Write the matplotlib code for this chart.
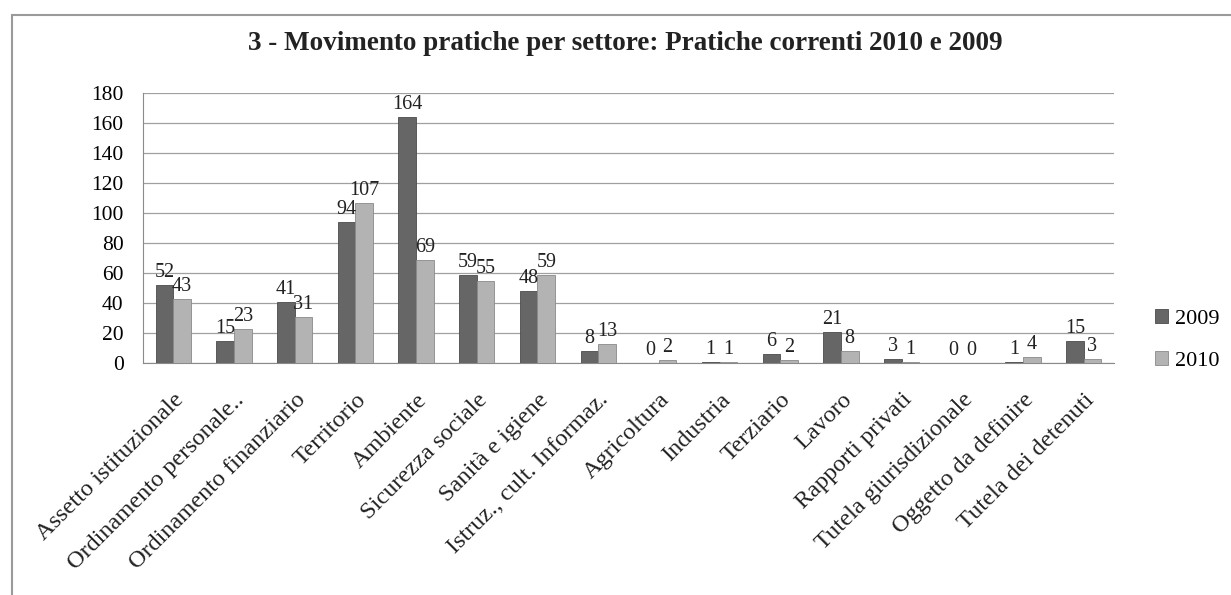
import numpy as np
import matplotlib.pyplot as plt
from matplotlib.patches import Rectangle

# Data
settori = ['Assetto istituzionale', 'Ordinamento personale..', 'Ordinamento finanziario',
           'Territorio', 'Ambiente', 'Sicurezza sociale', 'Sanità e igiene',
           'Istruz., cult. Informaz.', 'Agricoltura', 'Industria', 'Terziario', 'Lavoro',
           'Rapporti privati', 'Tutela giurisdizionale', 'Oggetto da definire',
           'Tutela dei detenuti']
pratiche_2009 = [52, 15, 41, 94, 164, 59, 48, 8, 0, 1, 6, 21, 3, 0, 1, 15]
pratiche_2010 = [43, 23, 31, 107, 69, 55, 59, 13, 2, 1, 2, 8, 1, 0, 4, 3]
y_ticks = [0, 20, 40, 60, 80, 100, 120, 140, 160, 180]

plt.rcParams['font.family'] = ['Liberation Serif', 'DejaVu Serif']

fig = plt.figure(figsize=(12.31, 5.95), dpi=100)
ax = fig.add_axes([143 / 1231, 1 - 363 / 595, (1114 - 143) / 1231, (363 - 93) / 595])

# outer frame of the chart
fig.patches.append(Rectangle((12 / 1231, -0.1), 1.2, 1.1 - 15 / 595, transform=fig.transFigure,
                             fill=False, edgecolor='#9a9a9a', linewidth=1.5))

x = np.arange(len(settori))
w = 0.29
b1 = ax.bar(x - w / 2, pratiche_2009, w, color='#666666', edgecolor='#4a4a4a',
            linewidth=0.6, label='2009', zorder=3)
b2 = ax.bar(x + w / 2, pratiche_2010, w, color='#b3b3b3', edgecolor='#8a8a8a',
            linewidth=0.6, label='2010', zorder=3)

for bars in (b1, b2):
    for rect in bars:
        h = rect.get_height()
        ax.annotate(f'{int(h)}', (rect.get_x() + rect.get_width() / 2, h),
                    xytext=(0, 2), textcoords='offset points', ha='center', va='bottom',
                    fontsize=14.5, color='#222222')

ax.set_ylim(0, 180)
ax.set_xlim(-0.5, len(settori) - 0.5)
ax.set_yticks(y_ticks)
ax.set_yticklabels([str(v) for v in y_ticks], fontsize=15.5)
ax.yaxis.grid(True, color='#a0a0a0', linewidth=0.9, zorder=0)
ax.set_axisbelow(True)
ax.tick_params(axis='y', length=0, pad=14)
ax.tick_params(axis='x', length=0, pad=19)
ax.set_xticks(x)
ax.set_xticklabels(settori, rotation=45, ha='right', rotation_mode='anchor', fontsize=17.5,
                   color='#222222')
for s in ['top', 'right']:
    ax.spines[s].set_visible(False)
ax.spines['left'].set_color('#8a8a8a')
ax.spines['bottom'].set_color('#8a8a8a')

fig.text(625 / 1231, 1 - 44 / 595, '3 - Movimento pratiche per settore: Pratiche correnti 2010 e 2009',
         ha='center', va='center', fontsize=19.5, fontweight='bold', color='#222222')

ax.legend(loc='center left', bbox_to_anchor=(1.022, 0.085), frameon=False, fontsize=16,
          handlelength=0.55, handleheight=0.55, labelspacing=1.0, handletextpad=0.35)

fig.savefig('out.png', dpi=100, facecolor='white')
